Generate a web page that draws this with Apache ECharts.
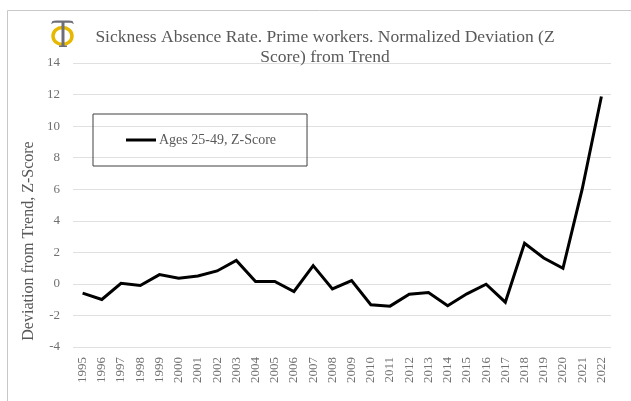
<!DOCTYPE html>
<html>
<head>
<meta charset="utf-8">
<script src="https://cdn.jsdelivr.net/npm/echarts@6/dist/echarts.min.js"></script>
<style>
  html, body { margin: 0; padding: 0; background: #fff; }
  #chart { width: 631px; height: 401px; }
</style>
</head>
<body>
<div id="chart"></div>
<script>
// Annual categories
const years = ['1995','1996','1997','1998','1999','2000','2001','2002','2003','2004',
  '2005','2006','2007','2008','2009','2010','2011','2012','2013','2014',
  '2015','2016','2017','2018','2019','2020','2021','2022'];

// Z-score of prime-age (25-49) sickness absence rate vs. trend
const zScore = [-0.59, -0.99, 0.04, -0.10, 0.59, 0.36, 0.50, 0.82, 1.49, 0.15,
  0.15, -0.48, 1.16, -0.32, 0.21, -1.32, -1.41, -0.65, -0.55, -1.39,
  -0.63, -0.02, -1.16, 2.57, 1.64, 0.99, 6.00, 11.88];

const seriesName = 'Ages 25-49, Z-Score';
const titleText = 'Sickness Absence Rate. Prime workers. Normalized Deviation (Z\nScore) from Trend';
const yAxisTitle = 'Deviation from Trend, Z-Score';

const serif = '"Liberation Serif", "DejaVu Serif", serif';
const textGray = '#595959';
const tickGray = '#707070';
const emblemGray = '#6e6e78';

const chart = echarts.init(document.getElementById('chart'), null, { renderer: 'canvas' });

chart.setOption({
  animation: false,
  backgroundColor: '#ffffff',
  title: {
    text: titleText,
    left: 320,
    top: 22,
    textAlign: 'center',
    textStyle: {
      fontFamily: serif,
      fontSize: 17.5,
      fontWeight: 'normal',
      color: textGray,
      lineHeight: 20
    }
  },
  legend: {
    left: 93,
    top: 114,
    padding: [19, 31, 19, 33],
    borderColor: '#404040',
    borderWidth: 1,
    itemWidth: 30,
    itemHeight: 14,
    itemGap: 0,
    icon: 'path://M0,6 L30,6 L30,9 L0,9 Z',
    textStyle: { fontFamily: serif, fontSize: 14, color: textGray, padding: [0, 0, 0, -2] },
    data: [seriesName]
  },
  grid: { left: 73, right: 20, top: 63, bottom: 54, containLabel: false },
  xAxis: {
    type: 'category',
    data: years,
    boundaryGap: true,
    axisLine: { show: false },
    axisTick: { show: false },
    axisLabel: {
      rotate: 90,
      interval: 0,
      margin: 10,
      fontFamily: serif,
      fontSize: 13,
      color: tickGray
    }
  },
  yAxis: {
    type: 'value',
    min: -4,
    max: 14,
    interval: 2,
    axisLine: { show: false },
    axisTick: { show: false },
    axisLabel: { margin: 13, fontFamily: serif, fontSize: 13, color: tickGray },
    splitLine: { lineStyle: { color: '#e0e0e0', width: 1 } }
  },
  series: [{
    name: seriesName,
    type: 'line',
    data: zScore,
    symbol: 'none',
    lineStyle: { color: '#000000', width: 3, join: 'miter' },
    itemStyle: { color: '#000000' }
  }],
  graphic: [
    // outer frame
    {
      type: 'rect',
      shape: { x: 7.5, y: 10.5, width: 700, height: 500 },
      style: { fill: 'none', stroke: '#c8c8c8', lineWidth: 1 },
      silent: true
    },
    // vertical axis title
    {
      type: 'text',
      x: 29,
      y: 241,
      rotation: Math.PI / 2,
      style: {
        text: yAxisTitle,
        fontFamily: serif,
        fontSize: 16,
        fill: textGray,
        align: 'center',
        verticalAlign: 'middle'
      }
    },
    // emblem: yellow ring
    {
      type: 'ellipse',
      shape: { cx: 62.5, cy: 36, rx: 9.5, ry: 8.5 },
      style: { fill: 'none', stroke: '#e6b800', lineWidth: 3.5 }
    },
    // emblem: gray T top bar
    {
      type: 'polygon',
      shape: { points: [[51, 24], [52.5, 21], [56, 20.5], [69, 20.5], [72.5, 21], [74, 24], [71, 22.8], [54, 22.8]] },
      style: { fill: emblemGray }
    },
    // emblem: gray T stem and foot
    {
      type: 'rect',
      shape: { x: 61.5, y: 22, width: 3, height: 24 },
      style: { fill: emblemGray }
    },
    {
      type: 'rect',
      shape: { x: 59, y: 45.5, width: 8, height: 1.5 },
      style: { fill: emblemGray }
    }
  ]
});
</script>
</body>
</html>
